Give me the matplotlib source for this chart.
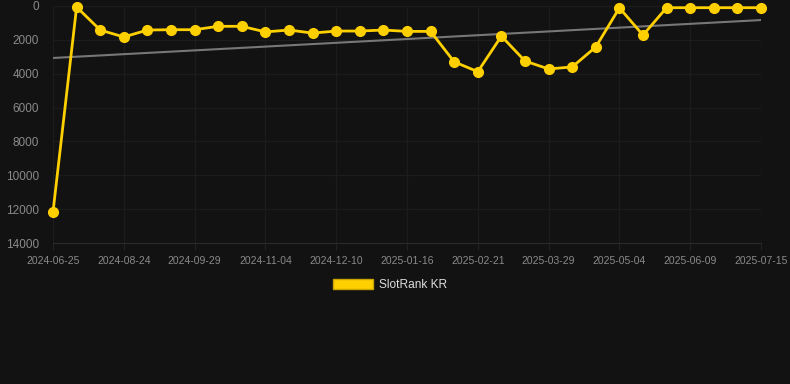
import matplotlib.pyplot as plt
from matplotlib.patches import Patch

# rank values (lower is better), one per sample date
ranks = [12170, 60, 1420, 1830, 1420, 1400, 1400, 1200, 1200, 1530,
         1420, 1600, 1480, 1480, 1420, 1500, 1500, 3300, 3880, 1780,
         3250, 3720, 3600, 2420, 110, 1720, 100, 100, 100, 100, 100]
tick_labels = ["2024-06-25", "2024-08-24", "2024-09-29", "2024-11-04",
               "2024-12-10", "2025-01-16", "2025-02-21", "2025-03-29",
               "2025-05-04", "2025-06-09", "2025-07-15"]
trend_start = 3070
trend_end = 830

bg = "#121212"
gold = "#FFD000"
txt = "#8a8a8a"

plt.rcParams['font.family'] = ['Liberation Sans', 'DejaVu Sans']

fig = plt.figure(figsize=(7.9, 3.84), dpi=100, facecolor=bg)
ax = fig.add_axes([53/790, 1 - 243/384, (761 - 53)/790, (243 - 6)/384])
ax.set_facecolor(bg)

xs = list(range(len(ranks)))
ax.plot([xs[0], xs[-1]], [trend_start, trend_end], color="#777777", lw=1.5, zorder=2)
ax.plot(xs, ranks, color=gold, lw=2, marker="o", ms=7, zorder=3, clip_on=False)

ax.set_xlim(xs[0], xs[-1])
ax.set_ylim(14000, 0)
ax.set_yticks(range(0, 14001, 2000))
ax.set_xticks(xs[::3])
ax.set_xticklabels(tick_labels)

ax.grid(True, color="#1c1c1c", lw=1)
for s in ax.spines.values():
    s.set_visible(False)
ax.spines["bottom"].set_visible(True)
ax.spines["bottom"].set_color("#2a2a2a")
ax.tick_params(axis="x", colors="#222222", labelcolor=txt, labelsize=7.5, length=5, pad=4)
ax.tick_params(axis="y", labelcolor=txt, labelsize=8.5, length=0, pad=10)

fig.legend(handles=[Patch(facecolor=gold, edgecolor="#c9a400", label="SlotRank KR")],
           loc="center", bbox_to_anchor=(390/790, 1 - 285/384), frameon=False,
           fontsize=8.6, labelcolor="#dddddd", handlelength=3.3, handleheight=0.85,
           handletextpad=0.5)

fig.savefig("out.png", dpi=100, facecolor=bg)
